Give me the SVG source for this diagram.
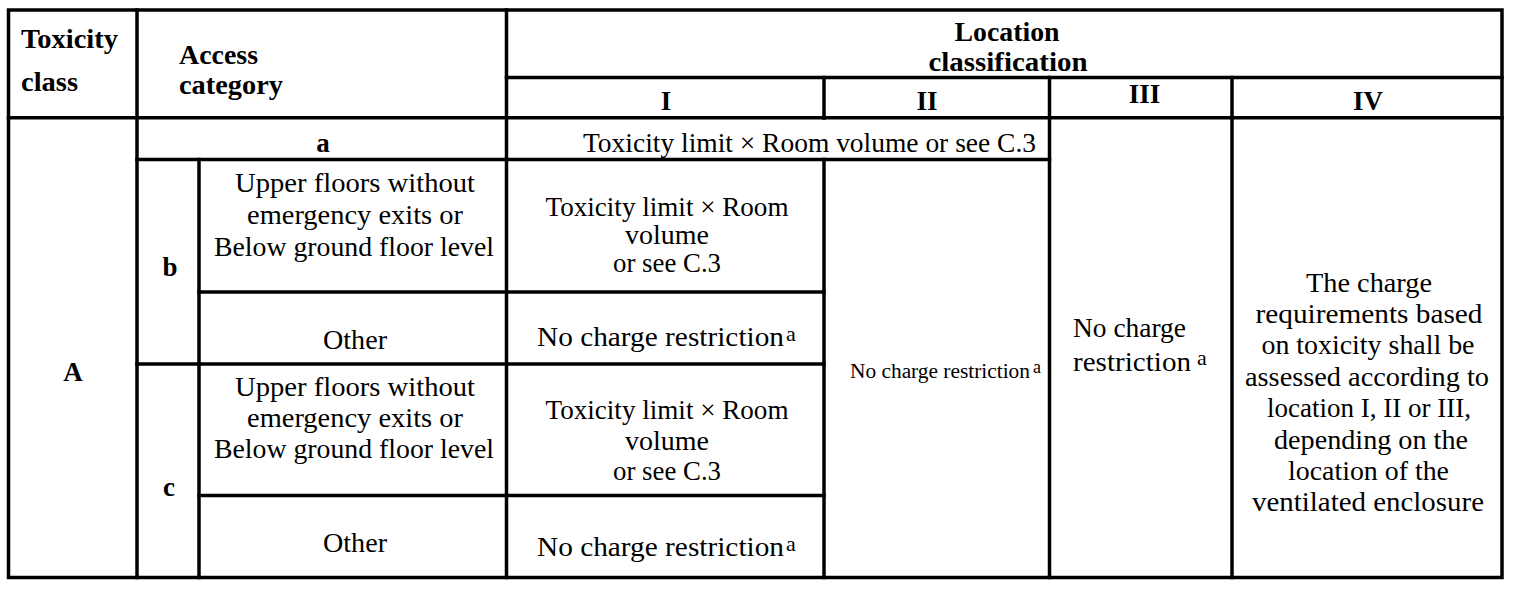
<svg xmlns="http://www.w3.org/2000/svg" width="1513" height="589" viewBox="0 0 1513 589">
<style>
.t{font-family:"Liberation Serif","Times New Roman",serif;font-size:27px;fill:#000}
.b{font-weight:bold}
.c{text-anchor:middle}
.g line,.g rect{stroke:#000;stroke-width:3.5;stroke-linecap:square;fill:none}
</style>
<rect width="1513" height="589" fill="#fff"/>
<g id="grid" class="g">
<rect x="8.5" y="10" width="1493.5" height="567.5"/>
<line x1="137" y1="10" x2="137" y2="577.5"/>
<line x1="199" y1="159.5" x2="199" y2="577.5"/>
<line x1="506.5" y1="10" x2="506.5" y2="577.5"/>
<line x1="824" y1="77.5" x2="824" y2="118"/>
<line x1="824" y1="159.5" x2="824" y2="577.5"/>
<line x1="1049.5" y1="77.5" x2="1049.5" y2="577.5"/>
<line x1="1232" y1="77.5" x2="1232" y2="577.5"/>
<line x1="506.5" y1="77.5" x2="1502" y2="77.5"/>
<line x1="8.5" y1="117.7" x2="1502" y2="117.7"/>
<line x1="137" y1="159.5" x2="1049.5" y2="159.5"/>
<line x1="199" y1="292" x2="824" y2="292"/>
<line x1="137" y1="364" x2="824" y2="364"/>
<line x1="199" y1="495.5" x2="824" y2="495.5"/>
</g>
<g id="h-toxicity">
<text class="t b" x="21" y="48" textLength="97" lengthAdjust="spacingAndGlyphs">Toxicity</text>
<text class="t b" x="21" y="91" textLength="57" lengthAdjust="spacingAndGlyphs">class</text>
</g>
<g id="h-access">
<text class="t b" x="179" y="64" textLength="79" lengthAdjust="spacingAndGlyphs">Access</text>
<text class="t b" x="179" y="94" textLength="104" lengthAdjust="spacingAndGlyphs">category</text>
</g>
<g id="h-location">
<text class="t b c" x="1007" y="41" textLength="105" lengthAdjust="spacingAndGlyphs">Location</text>
<text class="t b c" x="1008" y="71" textLength="159" lengthAdjust="spacingAndGlyphs">classification</text>
</g>
<g id="h-I"><text class="t b c" x="666" y="110">I</text></g>
<g id="h-II"><text class="t b c" x="927" y="110">II</text></g>
<g id="h-III"><text class="t b c" x="1144.5" y="103">III</text></g>
<g id="h-IV"><text class="t b c" x="1368" y="110">IV</text></g>
<g id="class-A"><text class="t b c" x="73" y="381">A</text></g>
<g id="cat-a"><text class="t b c" x="323" y="152">a</text></g>
<g id="cat-b"><text class="t b c" x="170" y="276">b</text></g>
<g id="cat-c"><text class="t b c" x="169" y="496">c</text></g>
<g id="a-I-II">
<text class="t" x="583" y="152" textLength="453" lengthAdjust="spacingAndGlyphs">Toxicity limit × Room volume or see C.3</text>
</g>
<g id="b-upper">
<text class="t c" x="355" y="192" textLength="240" lengthAdjust="spacingAndGlyphs">Upper floors without</text>
<text class="t c" x="355" y="224" textLength="216" lengthAdjust="spacingAndGlyphs">emergency exits or</text>
<text class="t c" x="354" y="256" textLength="280" lengthAdjust="spacingAndGlyphs">Below ground floor level</text>
</g>
<g id="b-upper-I">
<text class="t c" x="667" y="216" textLength="243" lengthAdjust="spacingAndGlyphs">Toxicity limit × Room</text>
<text class="t c" x="667" y="244" textLength="84" lengthAdjust="spacingAndGlyphs">volume</text>
<text class="t c" x="667" y="272" textLength="108" lengthAdjust="spacingAndGlyphs">or see C.3</text>
</g>
<g id="b-other"><text class="t c" x="355" y="349" textLength="64" lengthAdjust="spacingAndGlyphs">Other</text></g>
<g id="b-other-I">
<text class="t" x="537" y="346"><tspan textLength="247" lengthAdjust="spacingAndGlyphs">No charge restriction</tspan><tspan x="786" y="341" style="font-size:22px">a</tspan></text>
</g>
<g id="c-upper">
<text class="t c" x="355" y="396" textLength="240" lengthAdjust="spacingAndGlyphs">Upper floors without</text>
<text class="t c" x="355" y="427" textLength="216" lengthAdjust="spacingAndGlyphs">emergency exits or</text>
<text class="t c" x="354" y="458" textLength="280" lengthAdjust="spacingAndGlyphs">Below ground floor level</text>
</g>
<g id="c-upper-I">
<text class="t c" x="667" y="419" textLength="243" lengthAdjust="spacingAndGlyphs">Toxicity limit × Room</text>
<text class="t c" x="667" y="450" textLength="84" lengthAdjust="spacingAndGlyphs">volume</text>
<text class="t c" x="667" y="480" textLength="108" lengthAdjust="spacingAndGlyphs">or see C.3</text>
</g>
<g id="c-other"><text class="t c" x="355" y="552" textLength="64" lengthAdjust="spacingAndGlyphs">Other</text></g>
<g id="c-other-I">
<text class="t" x="537" y="556"><tspan textLength="247" lengthAdjust="spacingAndGlyphs">No charge restriction</tspan><tspan x="786" y="551" style="font-size:22px">a</tspan></text>
</g>
<g id="bc-II">
<text class="t" x="850" y="378" style="font-size:20px"><tspan textLength="180" lengthAdjust="spacingAndGlyphs">No charge restriction</tspan><tspan x="1033" y="373" style="font-size:18px">a</tspan></text>
</g>
<g id="abc-III">
<text class="t" x="1073" y="337" textLength="113" lengthAdjust="spacingAndGlyphs">No charge</text>
<text class="t" x="1073" y="371"><tspan textLength="118" lengthAdjust="spacingAndGlyphs">restriction</tspan><tspan x="1197" y="365" style="font-size:22px">a</tspan></text>
</g>
<g id="abc-IV">
<text class="t c" x="1369" y="291.5" textLength="126" lengthAdjust="spacingAndGlyphs">The charge</text>
<text class="t c" x="1369" y="322.9" textLength="227" lengthAdjust="spacingAndGlyphs">requirements based</text>
<text class="t c" x="1368" y="354.3" textLength="213" lengthAdjust="spacingAndGlyphs">on toxicity shall be</text>
<text class="t c" x="1367" y="385.7" textLength="244" lengthAdjust="spacingAndGlyphs">assessed according to</text>
<text class="t c" x="1369" y="417.1" textLength="204" lengthAdjust="spacingAndGlyphs">location I, II or III,</text>
<text class="t c" x="1371" y="448.5" textLength="194" lengthAdjust="spacingAndGlyphs">depending on the</text>
<text class="t c" x="1368.5" y="479.9" textLength="161" lengthAdjust="spacingAndGlyphs">location of the</text>
<text class="t c" x="1368" y="511.3" textLength="232" lengthAdjust="spacingAndGlyphs">ventilated enclosure</text>
</g>
</svg>
